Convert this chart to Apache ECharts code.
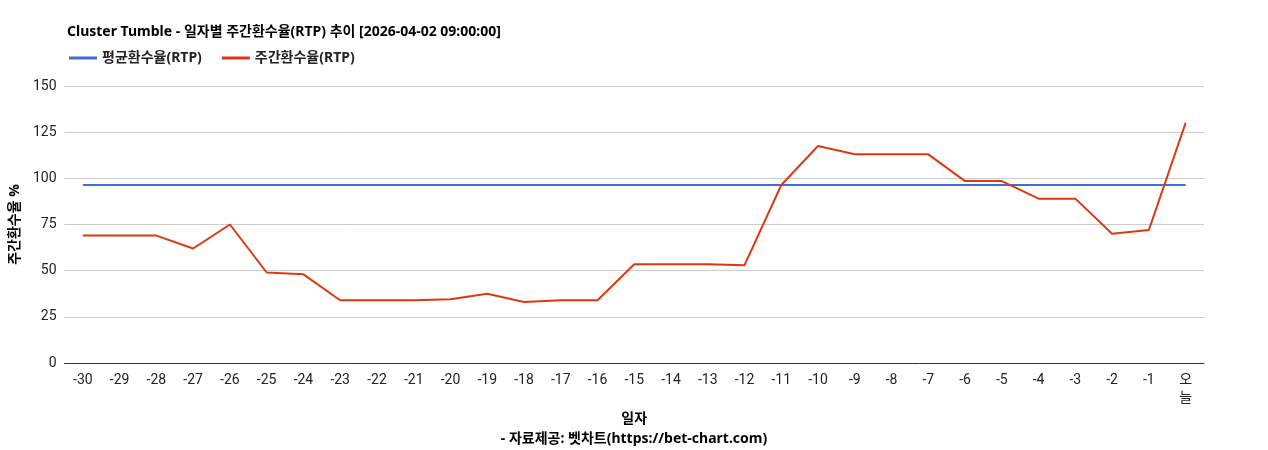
<!DOCTYPE html>
<html>
<head>
<meta charset="utf-8">
<script src="https://cdn.jsdelivr.net/npm/echarts@6/dist/echarts.min.js"></script>
<style>body{margin:0;background:#fff}#chart{width:1268px;height:450px}</style>
</head>
<body>
<div id="chart"></div>
<script>
// 일자 카테고리
var days = ['-30','-29','-28','-27','-26','-25','-24','-23','-22','-21','-20','-19','-18','-17','-16',
	'-15','-14','-13','-12','-11','-10','-9','-8','-7','-6','-5','-4','-3','-2','-1','오\n늘'];
// 주간환수율
var weeklyRtp = [69,69,69,62,75,49,48,34,34,34,34.5,37.5,33,34,34,
	53.5,53.5,53.5,53,96.4,117.5,113,113,113,98.5,98.5,89,89,70,72,130];
// 평균환수율
var avgRtp = days.map(function() { return 96.4; });

var font = '"Noto Sans", "Noto Sans CJK KR", sans-serif';
var chart = echarts.init(document.getElementById('chart'));
chart.setOption({
	textStyle : { fontFamily : font },
	title : [ {
		text : 'Cluster Tumble - 일자별 주간환수율(RTP) 추이 [2026-04-02 09:00:00]',
		left : 62, top : 20,
		textStyle : { fontSize : 14, fontWeight : 'bold', color : '#000', fontFamily : font }
	}, {
		text : '- 자료제공: 벳차트(https://bet-chart.com)',
		left : 'center', top : 427,
		textStyle : { fontSize : 14, fontWeight : 'bold', color : '#000', fontFamily : font }
	} ],
	legend : {
		left : 64, top : 46,
		itemWidth : 28, itemHeight : 3, itemGap : 20,
		icon : 'rect',
		textStyle : { fontSize : 14, fontWeight : 'bold', color : '#222', fontFamily : font },
		data : [ '평균환수율(RTP)', '주간환수율(RTP)' ]
	},
	grid : { left : 64, right : 64, top : 86, bottom : 87 },
	xAxis : {
		type : 'category',
		data : days,
		name : '일자',
		nameLocation : 'middle',
		nameGap : 45,
		nameTextStyle : { fontSize : 14, fontWeight : 'bold', color : '#000', fontFamily : font },
		axisTick : { show : false },
		axisLine : { lineStyle : { color : '#333' } },
		axisLabel : { interval : 0, fontSize : 14, color : '#222', lineHeight : 18, fontFamily : 'Roboto, "Noto Sans CJK KR", sans-serif' }
	},
	yAxis : {
		type : 'value',
		min : 0, max : 150, interval : 25,
		name : '주간환수율 %',
		nameLocation : 'middle',
		nameGap : 36,
		nameTextStyle : { fontSize : 14, fontWeight : 'bold', color : '#000', fontFamily : font },
		axisLabel : { fontSize : 14, color : '#222', fontFamily : 'Roboto, sans-serif' },
		splitLine : { lineStyle : { color : '#ccc' } }
	},
	series : [ {
		name : '평균환수율(RTP)',
		type : 'line',
		data : avgRtp,
		symbol : 'none',
		itemStyle : { color : '#3f6fcf' },
		lineStyle : { width : 2 }
	}, {
		name : '주간환수율(RTP)',
		type : 'line',
		data : weeklyRtp,
		symbol : 'none',
		itemStyle : { color : '#dc3912' },
		lineStyle : { width : 2 }
	} ]
});
</script>
</body>
</html>
